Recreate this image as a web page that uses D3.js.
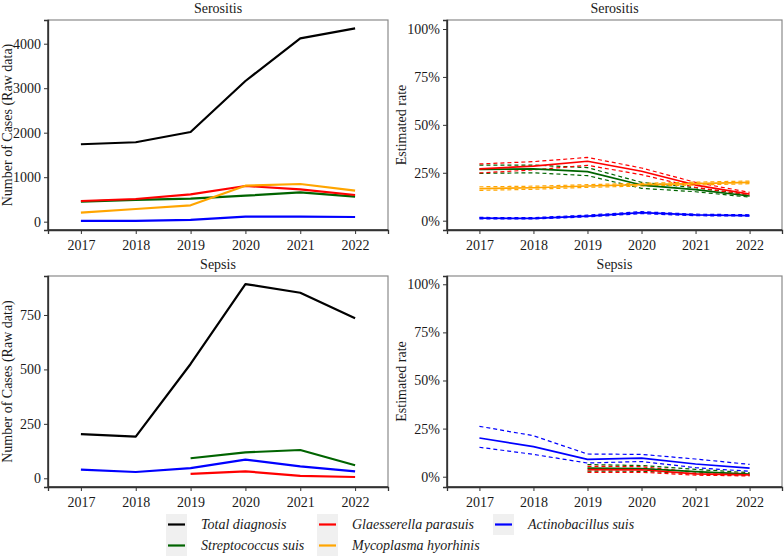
<!DOCTYPE html>
<html>
<head>
<meta charset="utf-8">
<script src="https://cdn.jsdelivr.net/npm/d3@7"></script>
<style>
  body { margin: 0; background: #fff; }
  svg text { font-family: "Liberation Serif", "Times New Roman", serif !important; fill: #1a1a1a; }
</style>
</head>
<body>
<svg id="chart" width="784" height="557"></svg>
<script>
// ---------------- DATA ----------------
const years = [2017, 2018, 2019, 2020, 2021, 2022];

const seriesNames = ["Total diagnosis", "Streptococcus suis", "Glaesserella parasuis", "Mycoplasma hyorhinis", "Actinobacillus suis"];
const seriesColors = ["#000000", "#006400", "#ff0000", "#ffa500", "#0000ff"];

// Serositis – number of cases
const serTotal = [1740, 1785, 2016, 3162, 4121, 4346];
const serStrep = [450, 488, 520, 584, 660, 562];
const serGlae  = [465, 510, 615, 802, 728, 600];
const serMyco  = [202, 285, 368, 809, 847, 697];
const serActi  = [18, 20, 40, 115, 112, 105];

// Sepsis – number of cases
const sepTotal = [203, 191, 525, 892, 852, 735];
const sepStrep = [null, null, 92, 119, 130, 60];
const sepGlae  = [null, null, 20, 32, 11, 6];
const sepActi  = [40, 29, 47, 86, 55, 32];

// Serositis – estimated rate (%), estimate / lower / upper
const serStrepRate = [26.8, 27.0, 25.6, 18.6, 16.2, 12.9];
const serStrepLo   = [24.7, 25.0, 23.5, 16.9, 15.1, 12.3];
const serStrepHi   = [29.0, 29.0, 27.7, 20.0, 17.2, 13.6];
const serGlaeRate  = [27.0, 28.5, 31.0, 25.8, 18.6, 13.9];
const serGlaeLo    = [24.9, 26.5, 28.9, 24.0, 17.4, 13.0];
const serGlaeHi    = [29.6, 30.8, 33.0, 27.5, 20.0, 14.8];
const serMycoRate  = [16.7, 17.2, 18.1, 18.8, 19.3, 20.0];
const serMycoLo    = [15.8, 16.4, 17.4, 18.1, 18.6, 19.3];
const serMycoHi    = [17.7, 18.0, 18.8, 19.5, 20.1, 20.7];
const serActiRate  = [1.3, 1.2, 2.4, 4.2, 3.0, 2.7];
const serActiLo    = [0.9, 0.9, 2.0, 3.7, 2.6, 2.4];
const serActiHi    = [1.7, 1.6, 2.9, 4.7, 3.4, 3.1];

// Sepsis – estimated rate (%)
const sepStrepRate = [null, null, 4.5, 4.2, 2.6, 1.3];
const sepStrepLo   = [null, null, 2.9, 2.8, 1.6, 0.7];
const sepStrepHi   = [null, null, 6.3, 5.8, 3.8, 2.1];
const sepGlaeRate  = [null, null, 3.7, 3.6, 1.5, 0.9];
const sepGlaeLo    = [null, null, 2.3, 2.3, 0.8, 0.4];
const sepGlaeHi    = [null, null, 5.4, 5.2, 2.4, 1.6];
const sepActiRate  = [20.1, 15.6, 9.0, 9.7, 6.6, 4.5];
const sepActiLo    = [15.3, 11.6, 7.1, 7.9, 4.7, 2.8];
const sepActiHi    = [26.2, 21.3, 11.8, 11.6, 9.2, 6.4];

const casesTicksSer = [0, 1000, 2000, 3000, 4000];
const casesTicksSep = [0, 250, 500, 750];
const rateTicks = [0, 25, 50, 75, 100];

// ---------------- DRAW ----------------
const FONT = '"Liberation Serif", "Times New Roman", serif';
const svg = d3.select("#chart");
const colorOf = name => seriesColors[seriesNames.indexOf(name)];

function panel(opts) {
  const { x0, x1, y0, y1, title, ytitle, yDomain, yTicks, yFmt, lines, bands, ytitleX } = opts;
  const g = svg.append("g");
  const x = d3.scalePoint().domain(years).range([x0, x1]).padding(0.6);
  const y = d3.scaleLinear().domain(yDomain).range([y1, y0]);

  // frame
  g.append("rect").attr("x", x0).attr("y", y0).attr("width", x1 - x0).attr("height", y1 - y0)
    .attr("fill", "#fff").attr("stroke", "#8a8a8a").attr("stroke-width", 1.2);

  // axes
  const ax = g.append("g").attr("transform", `translate(0,${y1})`)
    .call(d3.axisBottom(x).tickSize(4).tickPadding(3).tickFormat(d3.format("d")));
  const ay = g.append("g").attr("transform", `translate(${x0},0)`)
    .call(d3.axisLeft(y).tickValues(yTicks).tickSize(4).tickPadding(3).tickFormat(yFmt));
  [ax, ay].forEach(a => {
    a.attr("font-family", FONT).attr("font-size", 14);
    a.select(".domain").attr("stroke", "#333").attr("stroke-width", 1.3);
    a.selectAll(".tick line").attr("stroke", "#333").attr("stroke-width", 1);
    a.selectAll(".tick text").attr("font-size", 14).attr("fill", "#1a1a1a")
      .style("font-family", FONT);
  });
  ax.selectAll(".tick text").attr("dy", "0.95em");

  // title
  g.append("text").attr("x", (x0 + x1) / 2).attr("y", y0 - 7).attr("text-anchor", "middle")
    .attr("font-size", 14).style("font-family", FONT).text(title);
  // y title
  g.append("text").attr("transform", `translate(${ytitleX},${(y0 + y1) / 2}) rotate(-90)`)
    .attr("text-anchor", "middle").attr("font-size", 14).style("font-family", FONT).text(ytitle);

  const line = d3.line()
    .defined(d => d.v !== null)
    .x(d => x(d.year)).y(d => y(d.v));
  const toPts = arr => years.map((yr, i) => ({ year: yr, v: arr[i] }));

  const clip = "clip" + Math.round(x0) + "_" + Math.round(y0);
  g.append("clipPath").attr("id", clip).append("rect")
    .attr("x", x0).attr("y", y0).attr("width", x1 - x0).attr("height", y1 - y0);
  const plot = g.append("g").attr("clip-path", `url(#${clip})`);

  (bands || []).forEach(b => {
    [b.lo, b.hi].forEach(arr => {
      plot.append("path").datum(toPts(arr)).attr("d", line)
        .attr("fill", "none").attr("stroke", colorOf(b.name))
        .attr("stroke-width", 1.2).attr("stroke-dasharray", "4,3");
    });
  });
  lines.forEach(l => {
    plot.append("path").datum(toPts(l.values)).attr("d", line)
      .attr("fill", "none").attr("stroke", colorOf(l.name))
      .attr("stroke-width", l.w || 2.2).attr("stroke-linejoin", "round");
  });

  // redraw left/bottom axis lines on top
  g.append("line").attr("x1", x0).attr("x2", x0).attr("y1", y0).attr("y2", y1)
    .attr("stroke", "#333").attr("stroke-width", 1.3);
  g.append("line").attr("x1", x0).attr("x2", x1).attr("y1", y1).attr("y2", y1)
    .attr("stroke", "#333").attr("stroke-width", 1.3);
}

const pct = d => d + "%";

panel({
  x0: 48, x1: 388, y0: 20, y1: 230, title: "Serositis",
  ytitle: "Number of Cases (Raw data)", ytitleX: 12,
  yDomain: [-187, 4533], yTicks: casesTicksSer, yFmt: d3.format("d"),
  lines: [
    { name: "Total diagnosis", values: serTotal },
    { name: "Streptococcus suis", values: serStrep },
    { name: "Glaesserella parasuis", values: serGlae },
    { name: "Mycoplasma hyorhinis", values: serMyco },
    { name: "Actinobacillus suis", values: serActi }
  ]
});

panel({
  x0: 447, x1: 782, y0: 20, y1: 230, title: "Serositis",
  ytitle: "Estimated rate", ytitleX: 406,
  yDomain: [-4.85, 104.7], yTicks: rateTicks, yFmt: pct,
  bands: [
    { name: "Streptococcus suis", lo: serStrepLo, hi: serStrepHi },
    { name: "Glaesserella parasuis", lo: serGlaeLo, hi: serGlaeHi },
    { name: "Mycoplasma hyorhinis", lo: serMycoLo, hi: serMycoHi },
    { name: "Actinobacillus suis", lo: serActiLo, hi: serActiHi }
  ],
  lines: [
    { name: "Streptococcus suis", values: serStrepRate, w: 1.7 },
    { name: "Glaesserella parasuis", values: serGlaeRate, w: 1.7 },
    { name: "Mycoplasma hyorhinis", values: serMycoRate, w: 1.7 },
    { name: "Actinobacillus suis", values: serActiRate, w: 1.7 }
  ]
});

panel({
  x0: 48, x1: 388, y0: 276, y1: 487, title: "Sepsis",
  ytitle: "Number of Cases (Raw data)", ytitleX: 12,
  yDomain: [-40, 929], yTicks: casesTicksSep, yFmt: d3.format("d"),
  lines: [
    { name: "Total diagnosis", values: sepTotal },
    { name: "Streptococcus suis", values: sepStrep },
    { name: "Glaesserella parasuis", values: sepGlae },
    { name: "Actinobacillus suis", values: sepActi }
  ]
});

panel({
  x0: 447, x1: 782, y0: 276, y1: 487, title: "Sepsis",
  ytitle: "Estimated rate", ytitleX: 406,
  yDomain: [-5.35, 104.3], yTicks: rateTicks, yFmt: pct,
  bands: [
    { name: "Streptococcus suis", lo: sepStrepLo, hi: sepStrepHi },
    { name: "Glaesserella parasuis", lo: sepGlaeLo, hi: sepGlaeHi },
    { name: "Actinobacillus suis", lo: sepActiLo, hi: sepActiHi }
  ],
  lines: [
    { name: "Streptococcus suis", values: sepStrepRate, w: 1.7 },
    { name: "Glaesserella parasuis", values: sepGlaeRate, w: 1.7 },
    { name: "Actinobacillus suis", values: sepActiRate, w: 1.7 }
  ]
});

// ---------------- LEGEND ----------------
const legendCols = [166, 317, 493];
const legendRows = [514, 535];
const legendOrder = [
  ["Total diagnosis", 0, 0], ["Streptococcus suis", 0, 1],
  ["Glaesserella parasuis", 1, 0], ["Mycoplasma hyorhinis", 1, 1],
  ["Actinobacillus suis", 2, 0]
];
const lg = svg.append("g");
legendOrder.forEach(([name, c, r]) => {
  const kx = legendCols[c], ky = legendRows[r];
  lg.append("rect").attr("x", kx).attr("y", ky).attr("width", 21).attr("height", 21).attr("fill", "#f0f0f0");
  lg.append("line").attr("x1", kx + 2).attr("x2", kx + 19).attr("y1", ky + 10.5).attr("y2", ky + 10.5)
    .attr("stroke", colorOf(name)).attr("stroke-width", 2.2);
  lg.append("text").attr("x", kx + 35).attr("y", ky + 15).attr("font-size", 14)
    .attr("font-style", "italic").style("font-family", FONT).text(name);
});
</script>
</body>
</html>
